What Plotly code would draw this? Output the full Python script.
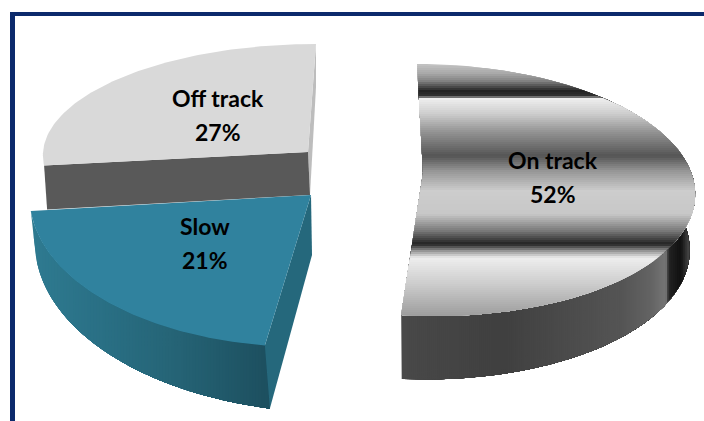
import numpy as np
import plotly.graph_objects as go

# Portfolio status shares, drawn clockwise from twelve o'clock
categories = ["On track", "Slow", "Off track"]
shares = [52, 21, 27]

# Slanted-ellipse geometry of each exploded wedge in canvas units
GEOMETRY = {
    "On track": dict(cx=426, cy=190, a=269, b=126, sx=-9, sy=0, apex=(423, 173), d0=55, d1=64, wall_a=0.98),
    "Slow": dict(cx=311, cy=195, a=281, b=152, sx=11, sy=3, apex=(311, 195), d0=63, d1=45, wall_a=1.0),
    "Off track": dict(cx=308, cy=152, a=265, b=108, sx=8, sy=0, apex=(308, 152), d0=43, d1=43, wall_a=1.0),
}

# Metallic shading for the largest wedge: (y, grey level) and (x, grey level)
METAL_TOP = [(60, 205), (72, 170), (80, 130), (90, 35), (95, 50), (98, 238), (113, 205), (130, 150),
             (155, 85), (170, 150), (190, 205), (213, 200), (230, 120), (243, 35), (250, 150),
             (257, 238), (283, 205), (320, 150)]
METAL_WALL = [(395, 74), (500, 64), (620, 85), (650, 100), (665, 118), (668, 34), (680, 17), (690, 85), (700, 85)]
SLOW_WALL = [(30, (47, 123, 145)), (100, (42, 112, 133)), (170, (38, 101, 119)), (270, (29, 79, 95))]

NAVY = "#0c2a6c"
fig = go.Figure()


def clip(poly, axis, limit):
    """Keep the part of a polygon on the high side of a vertical or horizontal line."""
    out = []
    for i in range(len(poly)):
        p, q = poly[i], poly[(i + 1) % len(poly)]
        pin, qin = p[axis] >= limit, q[axis] >= limit
        if pin:
            out.append(p)
        if pin != qin:
            f = (limit - p[axis]) / (q[axis] - p[axis])
            out.append((p[0] + f * (q[0] - p[0]), p[1] + f * (q[1] - p[1])))
    return out


def fill(poly, color):
    if len(poly) < 3:
        return
    xs, ys = zip(*poly)
    fig.add_trace(go.Scatter(x=list(xs) + [xs[0]], y=list(ys) + [ys[0]], mode="lines", fill="toself",
                             fillcolor=color, line=dict(width=0), hoverinfo="skip", showlegend=False))


def shaded(poly, axis, stops, step=2):
    """Paint a gradient as overlapping strips, each running to the far side of the polygon."""
    lo = min(p[axis] for p in poly)
    hi = max(p[axis] for p in poly)
    pos = [s[0] for s in stops]
    vals = np.array([s[1] if isinstance(s[1], tuple) else (s[1],) * 3 for s in stops], dtype=float)
    for v in np.arange(lo, hi, step):
        rgb = [int(np.interp(v, pos, vals[:, k])) for k in range(3)]
        fill(clip(poly, axis, v), f"rgb({rgb[0]},{rgb[1]},{rgb[2]})")


def rim(g, t):
    return (g["cx"] + g["a"] * np.sin(t) + g["sx"] * np.cos(t),
            g["cy"] - g["b"] * np.cos(t) + g["sy"] * np.sin(t))


def base(g, t, t0, t1):
    # Lower edge of the outer wall; its depth eases between the two ends of the arc
    f = (t - t0) / (t1 - t0)
    x, y = rim(g, t)
    return (g["cx"] + (x - g["cx"]) * g["wall_a"], y + g["d0"] + (g["d1"] - g["d0"]) * f)


# Turn the shares into wedge angles
edges = np.radians(np.cumsum([0] + shares) * 3.6)
span = {c: (edges[i], edges[i + 1]) for i, c in enumerate(categories)}


def arc(c, t0=None, t1=None, n=90):
    a0, a1 = span[c]
    return np.linspace(a0 if t0 is None else t0, a1 if t1 is None else t1, n)


# Off track: inner side, front side, then the top face
g = GEOMETRY["Off track"]
t0, t1 = span["Off track"]
outer = rim(g, t1)
fill([outer, (outer[0], outer[1] + g["d0"]), (g["apex"][0] + 2, g["apex"][1] + g["d0"]), g["apex"]], "#bdbdbd")
left = rim(g, t0)
fill([left, (left[0] + 3, left[1] + g["d0"] + 1), (g["apex"][0] + 2, g["apex"][1] + g["d0"]), g["apex"]], "#595959")
fill([g["apex"]] + [rim(g, t) for t in arc("Off track")], "#d9d9d9")

# Slow: outer wall, cut side, then the top face
g = GEOMETRY["Slow"]
t0, t1 = span["Slow"]
ts = arc("Slow")
wall = [rim(g, t) for t in ts] + [(base(g, t, t0, t1)[0] + 5, base(g, t, t0, t1)[1]) for t in ts[::-1]]
shaded(wall, 0, SLOW_WALL, step=3)
outer = rim(g, t0)
fill([outer, (outer[0] + 5, outer[1] + g["d0"]), (g["apex"][0] + 1, g["apex"][1] + 60), g["apex"]], "#25687c")
fill([g["apex"]] + [rim(g, t) for t in ts], "#30829e")

# On track: outer wall, then the banded top face
g = GEOMETRY["On track"]
t0, t1 = span["On track"]
ts = arc("On track", t0=np.radians(80), t1=t1)
wall = [rim(g, t) for t in ts] + [base(g, t, np.radians(80), t1) for t in ts[::-1]]
shaded(wall, 0, METAL_WALL)
shaded([g["apex"]] + [rim(g, t) for t in arc("On track")], 1, METAL_TOP)

# Wedge captions: category on the first line, share on the second
label_pos = {"On track": (553, 160), "Slow": (205, 226), "Off track": (218, 98)}
for name, value in zip(categories, shares):
    x, y = label_pos[name]
    for text, line_y in ((name, y), (f"{value}%", y + 34)):
        fig.add_annotation(x=x, y=line_y, text=text, showarrow=False, xref="x", yref="y",
                           font=dict(family="Lato", size=23, color="black", weight=700))

# Chart frame runs along the top and left of the canvas
fig.add_shape(type="line", x0=10, x1=704, y0=14, y1=14, line=dict(color=NAVY, width=4), xref="x", yref="y")
fig.add_shape(type="line", x0=12.5, x1=12.5, y0=12, y1=421, line=dict(color=NAVY, width=5), xref="x", yref="y")

fig.update_layout(width=704, height=421, margin=dict(l=0, r=0, t=0, b=0), paper_bgcolor="white",
                  plot_bgcolor="white", showlegend=False,
                  xaxis=dict(range=[0, 704], visible=False, fixedrange=True),
                  yaxis=dict(range=[421, 0], visible=False, fixedrange=True))
fig.write_html("out.html", config=dict(displayModeBar=False))
